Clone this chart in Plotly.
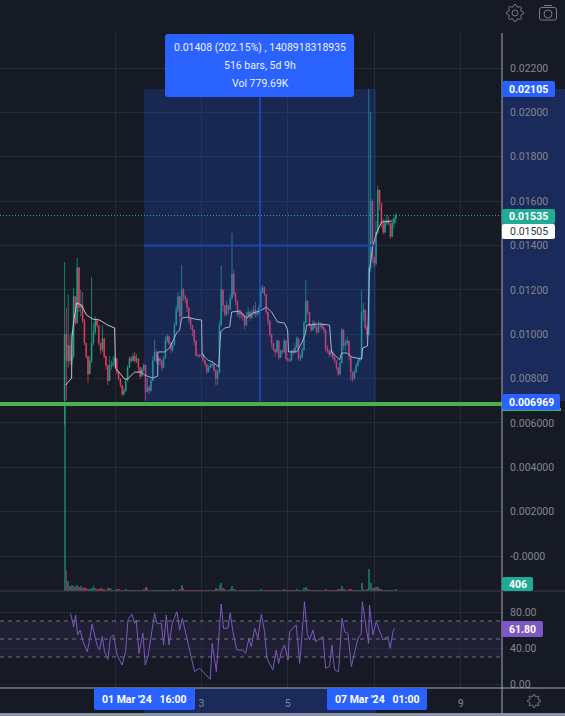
import math
import numpy as np
import pandas as pd
import plotly.graph_objects as go

# Prices are in units of 0.00001
first_open = 700
closes = [1000,880,950,880,900,1170,1050,1300,1120,1130,
 1060,960,900,820,880,960,1010,1060,1040,960,
 930,980,900,860,790,860,860,870,890,830,
 800,770,730,745,790,850,890,880,900,880,
 890,850,810,840,860,740,760,745,790,880,
 920,880,890,880,850,890,970,990,960,930,
 950,1040,1110,1170,1080,1200,1170,1160,1120,1070,
 1040,1020,970,905,905,900,910,880,865,830,
 850,860,865,840,800,830,1040,1200,1130,1090,
 1130,1110,1160,1270,1180,1150,1090,1100,1090,1080,
 1040,1080,1100,1075,1095,1110,1090,1095,1120,1190,
 1210,1180,1100,1060,1000,960,930,920,970,895,
 925,920,970,890,885,880,925,920,940,980,
 890,895,930,1050,1150,1100,1040,1020,1050,1030,
 1010,1040,1040,1030,1020,935,925,910,920,895,
 880,850,820,870,1020,950,960,970,900,830,
 800,830,860,880,890,1100,1110,1030,1000,1300,
 1600,1340,1320,1460,1650,1590,1500,1460,1500,1510,
 1500,1440,1500,1520,1535]
highs = [1325,1120,1180,1000,1010,1210,1170,1345,1290,1200,
 1190,1070,960,900,900,1258,1050,1080,1070,1040,
 960,1040,980,900,860,900,880,900,900,890,
 830,800,770,760,800,860,900,900,915,920,
 910,890,850,850,870,860,800,770,800,900,
 975,930,900,895,885,900,990,1000,990,960,
 970,1050,1130,1190,1170,1312,1210,1180,1160,1120,
 1070,1040,1020,970,910,910,915,910,885,865,
 860,870,880,865,840,840,1060,1310,1200,1130,
 1150,1130,1180,1456,1290,1190,1150,1110,1110,1095,
 1085,1100,1120,1105,1110,1130,1145,1110,1130,1215,
 1222,1215,1180,1100,1060,1000,960,935,975,970,
 930,930,980,965,895,890,930,935,960,990,
 980,910,940,1060,1244,1150,1100,1040,1065,1060,
 1040,1060,1055,1050,1045,1020,950,930,930,925,
 900,880,850,880,1030,1020,975,990,970,900,
 830,840,870,890,900,1200,1140,1110,1040,2105,
 2000,1610,1350,1510,1670,1640,1590,1520,1520,1540,
 1530,1500,1520,1530,1545]
lows = [590,700,850,860,860,890,1040,1050,1100,1080,
 1050,950,890,780,820,870,950,1000,1030,950,
 910,920,890,840,770,790,840,855,850,820,
 790,760,720,725,740,790,850,870,880,870,
 870,830,800,810,830,700,745,730,745,790,
 880,870,860,860,835,845,890,960,950,915,
 920,950,1040,1100,1050,1080,1150,1140,1100,1050,
 1020,990,950,900,895,895,895,875,855,820,
 830,845,850,830,770,770,820,1040,1100,1080,
 1080,1090,1110,1160,1170,1130,1080,1070,1070,1060,
 1020,1040,1075,1060,1070,1085,1075,1080,1090,1120,
 1185,1170,1090,1040,990,940,925,900,915,885,
 895,910,915,880,875,875,880,905,915,935,
 880,880,895,925,1050,1090,1030,1010,1015,1025,
 1000,1005,1025,1020,1005,920,915,895,900,885,
 870,840,810,815,870,930,925,950,880,790,
 785,795,825,855,875,885,1060,1020,980,990,
 1280,1320,1300,1310,1450,1560,1480,1450,1455,1490,
 1490,1430,1440,1480,1500]
volumes = [50500,5700,2700,1400,1600,1400,1100,1600,1000,1300,
 800,1000,700,500,600,900,1500,800,600,500,
 800,600,500,400,800,700,500,400,300,500,
 600,400,300,300,500,400,300,300,250,300,
 350,300,400,350,500,1100,700,400,350,300,
 300,350,250,300,400,300,350,300,250,300,
 450,500,400,350,500,1600,700,400,350,300,
 300,250,300,350,300,250,300,350,250,300,
 300,250,300,350,700,600,1500,2200,700,500,
 350,300,600,1300,500,400,300,300,250,300,
 350,300,250,300,300,350,400,300,300,450,
 400,350,300,350,400,350,300,300,350,400,
 300,250,450,400,300,250,300,250,350,450,
 400,300,350,700,1100,600,400,300,300,250,
 300,300,250,300,350,500,400,300,250,300,
 300,350,500,450,1300,500,350,400,500,450,
 300,300,250,300,350,2200,600,350,500,6000,
 2200,900,700,1000,1000,600,500,400,400,350,
 350,400,350,300,406]

ma_hours = [0.6,3.9,4.1,5,6.7,9.4,12.2,15.6,19.4,23.9,27.8,28.3,30.6,33.3,35,38.9,42.8,44.4,48.9,51.7,51.8,55.6,58.3,60,62.2,63.9,65,68.3,72.2,76.1,76.4,77.8,79.4,82.2,85.6,86.7,88.9,91.7,92.8,97.2,101.1,104.4,108.3,112.2,115,118.3,122.2,123.9,124.4,128.9,131.7,133.9,134.4,141.7,147.2,148.3,152.8,153.9,157.2,159.4,165,165.6,168.3,169.4,171.1,173.3,176.1,181.7]
ma_values = [771,802,983,1055,1141,1131,1086,1068,1064,1041,1028,847,825,798,798,829,829,816,802,811,920,920,938,965,1005,1019,1073,1077,1068,1064,915,897,884,875,852,1010,1028,1032,1100,1104,1073,1095,1104,1122,1100,1055,1050,1019,920,920,960,1005,1041,1046,1041,920,884,915,915,897,888,938,947,1289,1393,1456,1506,1510]

rsi_hours = [3.3,5,6.1,7.2,8.7,10.2,12.6,13.9,15.2,16.7,18,19.4,20.9,22.2,24.1,25.4,27.2,29.1,32,33.9,35.2,37.4,38.9,39.8,41.3,43.5,44.8,46.3,48.7,50,51.3,53.7,55,56.5,58,59.8,62.4,63.9,65.4,67.6,69.4,72.2,75,77.8,80.9,82,84.3,87,88.3,90.7,92,93.5,95.7,99.1,100.6,102.4,103.7,105.6,107.4,109.3,111.1,112.4,115.7,117.6,118.9,120.4,122.2,124.1,125,128.7,130.6,133.3,134.8,136.1,138,139.4,143.5,145,147.2,148.5,150,152.2,154.1,155.6,157.4,159.3,163,164.8,165.4,167.2,168.9,169.4,171.3,173.1,176.9,179.6,180.9,182.4,183.3]
rsi_values = [78.5,63.7,76.6,54.5,60,47,36,49,66.7,54.5,43.4,37.8,52.6,36,27.4,50.8,54.5,32.3,21.1,36,71.1,77.8,67.4,71.1,34.1,56.3,21.1,30.4,63.7,78.5,67.4,67.4,43.4,76.6,43.4,67.4,80.3,60,73,52.6,37.8,13.8,17.5,11.9,5.2,45.2,13.8,88.9,61.9,61.9,79.2,58.1,37.8,37.8,34.1,50.8,41.5,61.9,50.8,77.8,58.1,28.6,15.6,37.8,23,36,43.4,26.7,58.1,65.6,23,91.4,56.3,48.9,60,47,52.6,17.5,19.3,43.4,15.6,13.8,73,58.1,56.3,19.3,50.8,56.3,91.4,67.4,45.2,87.7,54.5,69.2,48.9,52.6,39.6,58.1,61.8]

price_ticks = [0.022,0.020,0.018,0.016,0.014,0.012,0.010,0.008,0.006,0.004,0.002,0.0]
price_labels = ["0.02200","0.02000","0.01800","0.01600","0.01400","0.01200","0.01000","0.00800","0.006000","0.004000","0.002000","-0.0000"]
rsi_ticks = [0,40,80]
rsi_labels = ["0.00","40.00","80.00"]
day_ticks = ["2024-03-01","2024-03-03","2024-03-05","2024-03-07","2024-03-09"]
day_labels = ["","3","5","","9"]

BG = "#161a25"; GRID = "#262a36"; AXIS = "#a8aab0"; TXT = "#84868e"
TEAL = "#1fa78f"; RED = "#f23f5d"; BLUE = "#2962ff"; NAVY = "#1a2a5a"; PURPLE = "#7e57c2"
FONT = "Roboto"
W, H, PLOT_W = 565, 716, 502

start = pd.Timestamp("2024-02-28 20:00")
times = pd.date_range(start, periods=len(closes), freq="h")
hours = lambda hs: [start + pd.Timedelta(hours=h) for h in hs]
scale = 1e-5
c = np.array(closes) * scale
o = np.concatenate([[first_open * scale], c[:-1]])

px_per = (556 - 68) / 0.022
y_top, y_bot = (556 - 33) / px_per, (556 - 591) / px_per
rsi_top, rsi_bot = (684 - 591) / 0.9, (684 - 688) / 0.9
day0 = pd.Timestamp("2024-03-01")
xl = day0 + pd.Timedelta(days=(0 - 115) / 43.2)
xr = day0 + pd.Timedelta(days=(PLOT_W - 115) / 43.2)

PX = lambda x: x / PLOT_W
PY = lambda y: 1 - y / H

def rrect(x0, y0, x1, y1, r=2):
    a, b, d, e = PX(x0), PY(y0), PX(x1), PY(y1)
    rx, ry = r / PLOT_W, r / H
    return (f"M{a+rx},{b} L{d-rx},{b} Q{d},{b} {d},{b-ry} L{d},{e+ry} Q{d},{e} {d-rx},{e} "
            f"L{a+rx},{e} Q{a},{e} {a},{e+ry} L{a},{b-ry} Q{a},{b} {a+rx},{b} Z")

def box(x0, y0, x1, y1, color, text=None, tcolor="white", size=10.5, r=2, layer="above", bold=False):
    shapes.append(dict(type="path", xref="paper", yref="paper", path=rrect(x0, y0, x1, y1, r),
                       fillcolor=color, line=dict(width=0), layer=layer))
    if text:
        annotations.append(dict(xref="paper", yref="paper", x=PX((x0 + x1) / 2), y=PY((y0 + y1) / 2),
                                text=f"<b>{text}</b>" if bold else text, showarrow=False,
                                font=dict(family=FONT, size=size, color=tcolor), xanchor="center", yanchor="middle"))

def rect(x0, y0, x1, y1, color, layer="above"):
    shapes.append(dict(type="rect", xref="paper", yref="paper", x0=PX(x0), x1=PX(x1), y0=PY(y0), y1=PY(y1),
                       fillcolor=color, line=dict(width=0), layer=layer))

def cog(cx, cy, r1, r2, teeth, color, inner):
    pts = []
    n = teeth * 4
    for i in range(n):
        r = r2 if i % 4 in (0, 1) else r1
        a = 2 * math.pi * (i - 0.5) / n
        pts.append((PX(cx + r * math.cos(a)), PY(cy + r * math.sin(a))))
    shapes.append(dict(type="path", xref="paper", yref="paper",
                       path="M" + " L".join(f"{p},{q}" for p, q in pts) + " Z",
                       line=dict(color=color, width=1), fillcolor="rgba(0,0,0,0)"))
    if inner:
        shapes.append(dict(type="circle", xref="paper", yref="paper", x0=PX(cx - inner), x1=PX(cx + inner),
                           y0=PY(cy + inner), y1=PY(cy - inner), line=dict(color=color, width=1)))

shapes, annotations = [], []

rect(502, 89, 565, 401, NAVY, layer="below")
rect(144, 688, 376, 713, NAVY, layer="below")

shapes.append(dict(type="rect", xref="x2", yref="y2", x0=xl, x1=xr, y0=30, y1=70, fillcolor="rgba(126,87,194,0.1)", line=dict(width=0), layer="below"))
for lv in (70, 50, 30):
    shapes.append(dict(type="line", xref="x2", yref="y2", x0=xl, x1=xr, y0=lv, y1=lv, line=dict(color="#6f727c", width=1, dash="4px,4px")))

sel_x0, sel_x1 = pd.Timestamp("2024-03-01 16:00"), pd.Timestamp("2024-03-07 01:00")
sel_mid = sel_x0 + (sel_x1 - sel_x0) / 2
sel_y0, sel_y1 = 0.00697, 0.02105
shapes.append(dict(type="rect", xref="x", yref="y", x0=sel_x0, x1=sel_x1, y0=sel_y0, y1=sel_y1, fillcolor="rgba(41,98,255,0.2)", line=dict(width=0)))
shapes.append(dict(type="line", xref="x", yref="y", x0=sel_x0, x1=sel_x1, y0=0.014, y1=0.014, line=dict(color="#1f46a8", width=2)))
shapes.append(dict(type="line", xref="x", yref="y", x0=sel_mid, x1=sel_mid, y0=sel_y0, y1=sel_y1, line=dict(color="#2456e6", width=1.2)))

shapes.append(dict(type="line", xref="paper", yref="y", x0=0, x1=1, y0=0.01535, y1=0.01535, line=dict(color="#1fa78f", width=1, dash="1px,2px")))
shapes.append(dict(type="line", xref="paper", yref="y", x0=0, x1=1, y0=0.00685, y1=0.00685, line=dict(color="#4caf50", width=4)))

shapes.append(dict(type="line", xref="paper", yref="paper", x0=PX(502), x1=PX(502), y0=PY(33), y1=PY(713), line=dict(color=AXIS, width=1)))
shapes.append(dict(type="line", xref="paper", yref="paper", x0=0, x1=PX(565), y0=PY(591), y1=PY(591), line=dict(color="#3c3f4a", width=1)))
shapes.append(dict(type="line", xref="paper", yref="paper", x0=0, x1=PX(565), y0=PY(688), y1=PY(688), line=dict(color=AXIS, width=1)))
rect(0, 713, 565, 716, "#8c93a8")

box(165, 34, 354, 97, BLUE, r=3)
for yy, t in zip((47, 65, 83), ("0.01408 (202.15%) , 1408918318935", "516 bars, 5d 9h", "Vol 779.69K")):
    annotations.append(dict(xref="paper", yref="paper", x=PX(260), y=PY(yy), text=t, showarrow=False,
                            font=dict(family=FONT, size=10.5, color="#eef1fb"), xanchor="center", yanchor="middle"))

box(502, 81, 555, 97, BLUE, "0.02105", bold=True)
box(502, 209, 555, 224, "#22ab94", "0.01535", bold=True)
box(502, 224, 555, 239, "#ffffff", "0.01505", tcolor="#333640")
rect(502, 408, 561, 411, "#4caf50")
box(502, 394, 560, 410, BLUE, "0.006969", bold=True)
box(502, 577, 533, 591, "#22ab94", "406", bold=True)
box(502, 621, 543, 637, PURPLE, "61.80", bold=True)

box(94, 688, 195, 710, BLUE, "01 Mar '24 &#160; 16:00", bold=True)
box(327, 688, 427, 710, BLUE, "07 Mar '24 &#160; 01:00", bold=True)

cog(515, 13, 6.5, 8.5, 8, "#787b86", 3)
shapes.append(dict(type="path", xref="paper", yref="paper", line=dict(color="#787b86", width=1), path=rrect(539.5, 7.5, 556.5, 20, 2)))
shapes.append(dict(type="line", xref="paper", yref="paper", x0=PX(544), x1=PX(552), y0=PY(5.5), y1=PY(5.5), line=dict(color="#787b86", width=1)))
shapes.append(dict(type="circle", xref="paper", yref="paper", x0=PX(544), x1=PX(552), y0=PY(18), y1=PY(10), line=dict(color="#787b86", width=1)))
cog(534, 701, 4.5, 6.5, 8, "#787b86", 0)

vol_colors = ["rgba(31,167,143,0.55)" if cc >= oo else "rgba(242,63,93,0.6)" for cc, oo in zip(c, o)]

fig = go.Figure()
fig.add_trace(go.Candlestick(x=times, open=o, high=np.array(highs) * scale, low=np.array(lows) * scale, close=c,
    xaxis="x", yaxis="y", whiskerwidth=0, hoverinfo="skip",
    increasing=dict(line=dict(color=TEAL, width=0.7), fillcolor=TEAL),
    decreasing=dict(line=dict(color=RED, width=0.7), fillcolor=RED)))
fig.add_trace(go.Scatter(x=hours(ma_hours), y=np.array(ma_values) * scale, mode="lines", xaxis="x", yaxis="y",
    line=dict(color="#c4c5cc", width=1), hoverinfo="skip"))
fig.add_trace(go.Bar(x=times, y=volumes, xaxis="x", yaxis="y3", marker=dict(color=vol_colors, line=dict(width=0)), hoverinfo="skip"))
fig.add_trace(go.Scatter(x=hours(rsi_hours), y=rsi_values, mode="lines", xaxis="x2", yaxis="y2",
    line=dict(color=PURPLE, width=1), hoverinfo="skip"))

tick_font = dict(family=FONT, size=10.5, color=TXT)
fig.update_layout(
    width=W, height=H + 3, margin=dict(l=0, r=W - PLOT_W, t=0, b=0), autosize=False,
    paper_bgcolor=BG, plot_bgcolor=BG, showlegend=False, bargap=0, boxgap=0.4,
    font=dict(family=FONT), shapes=shapes, annotations=annotations,
    xaxis=dict(domain=[0, 1], anchor="y", range=[xl, xr], type="date", tickvals=day_ticks, ticktext=[""] * 5, showgrid=True,
               gridcolor=GRID, gridwidth=1, rangeslider=dict(visible=False), showline=False, zeroline=False, ticks=""),
    xaxis2=dict(domain=[0, 1], anchor="y2", range=[xl, xr], type="date", tickvals=day_ticks, ticktext=day_labels, showgrid=True,
                gridcolor=GRID, gridwidth=1, tickfont=tick_font, showline=False, zeroline=False,
                ticks="outside", ticklen=5, tickcolor="rgba(0,0,0,0)"),
    yaxis=dict(domain=[PY(591), PY(33)], anchor="x", range=[y_bot, y_top], side="right", tickvals=price_ticks, ticktext=price_labels,
               tickfont=tick_font, gridcolor=GRID, gridwidth=1, zeroline=False, showline=False,
               ticks="outside", ticklen=5, tickcolor="rgba(0,0,0,0)"),
    yaxis2=dict(domain=[PY(688), PY(591)], anchor="x2", range=[rsi_bot, rsi_top], side="right", tickvals=rsi_ticks, ticktext=rsi_labels,
                tickfont=tick_font, gridcolor=GRID, gridwidth=1, zeroline=False, showline=False,
                ticks="outside", ticklen=5, tickcolor="rgba(0,0,0,0)"),
    yaxis3=dict(domain=[PY(591), PY(33)], anchor="x", overlaying="y", range=[0, 150000], visible=False),
)
fig.write_html("out.html", config=dict(displayModeBar=False),
               post_script="document.body.style.margin='0';document.body.style.overflow='hidden';")
